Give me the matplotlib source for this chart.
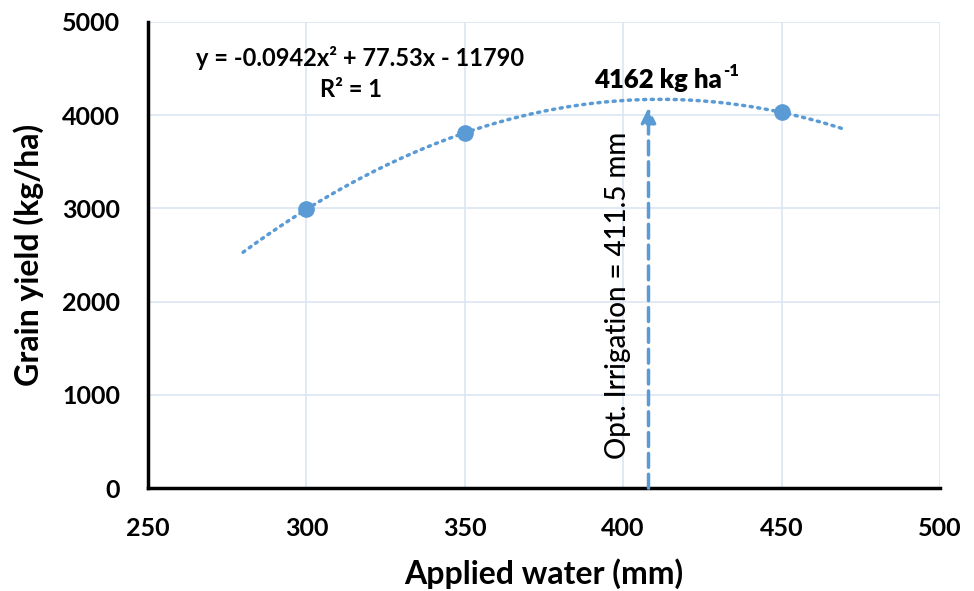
import numpy as np
import matplotlib
matplotlib.use("Agg")
import matplotlib.pyplot as plt

# Data
applied_water = [300, 350, 450]
grain_yield = [2990, 3810, 4030]
trend_range = [280, 470]
opt_irrigation_x = 408
arrow_top = 4080
x_ticks = [250, 300, 350, 400, 450, 500]
y_ticks = [0, 1000, 2000, 3000, 4000, 5000]

blue = "#5B9BD5"
grid_c = "#DCE6F2"

plt.rcParams['font.family'] = ['Lato', 'DejaVu Sans']

fig = plt.figure(figsize=(9.74, 5.91), dpi=100)
ax = fig.add_axes([0.152, 0.174, 0.813, 0.789])

# Trendline (2nd order polynomial fit to the data)
coef = np.polyfit(applied_water, grain_yield, 2)
xs = np.linspace(trend_range[0], trend_range[1], 200)
ax.plot(xs, np.polyval(coef, xs), linestyle=(0, (0.6, 1.6)), color=blue,
        linewidth=2.5, dash_capstyle='round', zorder=3)

ax.plot(applied_water, grain_yield, 'o', color=blue, markersize=11, zorder=4)

# Optimum arrow
ax.annotate("", xy=(opt_irrigation_x, arrow_top), xytext=(opt_irrigation_x, 0),
            arrowprops=dict(arrowstyle="-|>", color=blue, lw=2.5,
                            linestyle=(0, (4, 2)), mutation_scale=22,
                            shrinkA=0, shrinkB=0), zorder=3)

ax.text(398.5, 2070, "Opt. Irrigation = 411.5 mm", rotation=90, ha='center',
        va='center', fontsize=20, color='black', fontweight='medium')
t = ax.text(411, 4375, "4162 kg ha", ha='center', va='center',
            fontsize=18.5, fontweight='heavy', zorder=6)
ax.annotate("-1", xy=(1, 0.5), xycoords=t, xytext=(1, 1),
            textcoords='offset points', ha='left', va='bottom',
            fontsize=12, fontweight='heavy', zorder=6)
ax.text(317, 4610, "y = -0.0942x\u00B2 + 77.53x - 11790", ha='center',
        va='center', fontsize=17, fontweight='bold')
ax.text(314, 4270, "R\u00B2 = 1", ha='center', va='center',
        fontsize=17, fontweight='bold')

ax.set_xlim(250, 500)
ax.set_ylim(0, 5000)
ax.set_xticks(x_ticks)
ax.set_yticks(y_ticks)
ax.grid(True, color=grid_c, linewidth=1.2, zorder=0)
ax.set_axisbelow(True)
for s in ['top', 'right']:
    ax.spines[s].set_visible(False)
for s in ['left', 'bottom']:
    ax.spines[s].set_linewidth(2.5)
    ax.spines[s].set_color('black')
ax.tick_params(axis='y', length=0, pad=20, labelsize=18)
ax.tick_params(axis='x', length=0, pad=21, labelsize=18)
for lab in ax.get_xticklabels() + ax.get_yticklabels():
    lab.set_fontweight('bold')
ax.set_xlabel("Applied water (mm)", fontsize=23, fontweight='bold', labelpad=13)
ax.set_ylabel("Grain yield (kg/ha)", fontsize=23, fontweight='bold', labelpad=13)

fig.savefig("out.png", dpi=100)
